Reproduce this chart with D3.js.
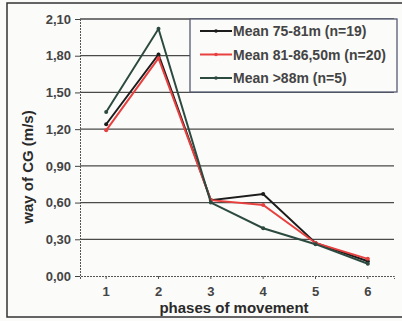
<!DOCTYPE html>
<html>
<head>
<meta charset="utf-8">
<script src="https://cdn.jsdelivr.net/npm/d3@7"></script>
<style>
  body { margin: 0; background: #fbfbf9; }
  svg { display: block; font-family: "Liberation Sans", Arial, sans-serif; }
</style>
</head>
<body>
<div id="chart"></div>
<script>
// phases and the three group means
var phases = ["1", "2", "3", "4", "5", "6"];
var mean7581 = [1.24, 1.81, 0.62, 0.67, 0.27, 0.12];
var mean8186 = [1.19, 1.78, 0.62, 0.58, 0.27, 0.14];
var mean88 = [1.34, 2.02, 0.60, 0.39, 0.26, 0.10];
var seriesNames = ["Mean 75-81m (n=19)", "Mean 81-86,50m (n=20)", "Mean >88m (n=5)"];
var yTicks = [0, 0.3, 0.6, 0.9, 1.2, 1.5, 1.8, 2.1];

var colors = ["#1c1c1c", "#e8403f", "#2c4a40"];
var allSeries = [mean7581, mean8186, mean88];

var width = 402, height = 321;
var margin = {top: 19, right: 8, bottom: 45, left: 80};

var svg = d3.select("#chart")
  .append("svg")
  .attr("width", width)
  .attr("height", height);

// outer frame
svg.append("rect")
  .attr("x", 7).attr("y", 3)
  .attr("width", 420).attr("height", 314)
  .attr("fill", "none")
  .attr("stroke", "#333")
  .attr("stroke-width", 1.5);

var xScale = d3.scaleBand()
  .domain(phases)
  .range([margin.left, width - margin.right])
  .padding(0);

var yScale = d3.scaleLinear()
  .domain([0, 2.1])
  .range([height - margin.bottom, margin.top]);

// gridlines
svg.append("g")
  .selectAll("line")
  .data(yTicks.filter(function(d) { return d > 0; }))
  .enter()
  .append("line")
  .attr("x1", margin.left)
  .attr("x2", width - margin.right)
  .attr("y1", function(d) { return yScale(d); })
  .attr("y2", function(d) { return yScale(d); })
  .attr("stroke", "#4a4a4a")
  .attr("stroke-width", 1.3);

// y axis
var yAxis = svg.append("g")
  .attr("transform", "translate(" + margin.left + ",0)")
  .call(d3.axisLeft(yScale)
    .tickValues(yTicks)
    .tickSize(5)
    .tickPadding(4)
    .tickFormat(function(d) { return d3.format(".2f")(d).replace(".", ","); }));
yAxis.select(".domain").attr("stroke", "#555").attr("stroke-dasharray", "2,1");
yAxis.selectAll(".tick line").attr("stroke", "#444");
yAxis.selectAll("text")
  .attr("fill", "#444")
  .attr("font-weight", "bold")
  .style("font-size", "13px");

// x axis
var xAxis = svg.append("g")
  .attr("transform", "translate(0," + yScale(0) + ")")
  .call(d3.axisBottom(xScale).tickSize(3).tickPadding(8));
xAxis.select(".domain").attr("stroke", "#555").attr("stroke-dasharray", "2,1");
xAxis.selectAll(".tick line").attr("stroke", "#555");
xAxis.selectAll("text")
  .attr("fill", "#444")
  .attr("font-weight", "bold")
  .style("font-size", "13px");

// axis titles
svg.append("text")
  .attr("x", 234)
  .attr("y", 313)
  .attr("text-anchor", "middle")
  .attr("font-weight", "bold")
  .attr("fill", "#2a2a2a")
  .style("font-size", "15px")
  .text("phases of movement");

svg.append("text")
  .attr("transform", "translate(33," + 167 + ") rotate(-90)")
  .attr("text-anchor", "middle")
  .attr("font-weight", "bold")
  .attr("fill", "#2a2a2a")
  .style("font-size", "15px")
  .text("way of CG (m/s)");

// lines
var line = d3.line()
  .x(function(d, i) { return xScale(phases[i]) + xScale.bandwidth() / 2; })
  .y(function(d) { return yScale(d); });

allSeries.forEach(function(s, k) {
  svg.append("path")
    .datum(s)
    .attr("d", line)
    .attr("fill", "none")
    .attr("stroke", colors[k])
    .attr("stroke-width", 2);
  svg.selectAll(".pt" + k)
    .data(s)
    .enter()
    .append("circle")
    .attr("cx", function(d, i) { return xScale(phases[i]) + xScale.bandwidth() / 2; })
    .attr("cy", function(d) { return yScale(d); })
    .attr("r", 2)
    .attr("fill", colors[k]);
});

// legend
var legend = svg.append("g");
legend.append("rect")
  .attr("x", 190).attr("y", 19)
  .attr("width", 207).attr("height", 73)
  .attr("fill", "#fbfbf9")
  .attr("stroke", "#555a70")
  .attr("stroke-width", 1.3);

var items = legend.selectAll(".legend")
  .data(seriesNames)
  .enter()
  .append("g")
  .attr("class", "legend")
  .attr("transform", function(d, i) { return "translate(0," + (31 + i * 23.5) + ")"; });

items.append("line")
  .attr("x1", 200).attr("x2", 232)
  .attr("y1", 0).attr("y2", 0)
  .attr("stroke", function(d, i) { return colors[i]; })
  .attr("stroke-width", 2);

items.append("circle")
  .attr("cx", 216).attr("cy", 0).attr("r", 1.8)
  .attr("fill", function(d, i) { return colors[i]; });

items.append("text")
  .attr("x", 233)
  .attr("y", 0)
  .attr("dy", ".36em")
  .attr("fill", "#444")
  .attr("font-weight", "bold")
  .style("font-size", "14px")
  .text(function(d) { return d; });
</script>
</body>
</html>
